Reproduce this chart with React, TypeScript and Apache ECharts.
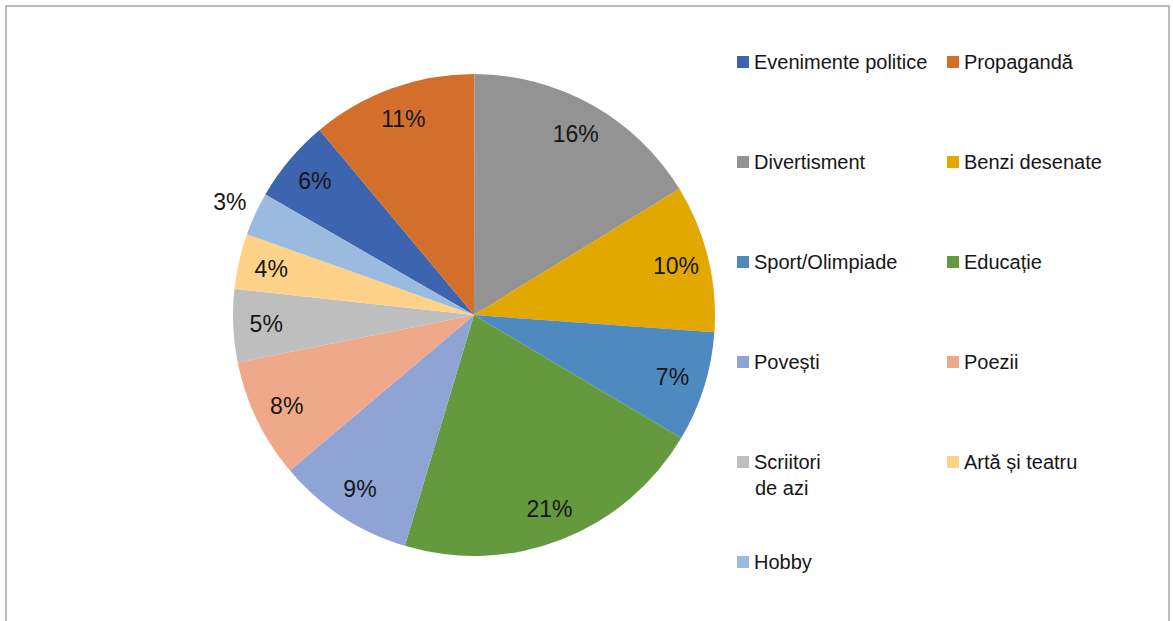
import React, { useEffect, useRef } from "react";
import * as echarts from "echarts";

const categories = [
  "Evenimente politice",
  "Propagandă",
  "Divertisment",
  "Benzi desenate",
  "Sport/Olimpiade",
  "Educație",
  "Povești",
  "Poezii",
  "Scriitori de azi",
  "Artă și teatru",
  "Hobby",
];
const shares = [5.6, 11.1, 16.2, 9.9, 7.4, 21.1, 9.2, 8.0, 4.9, 3.7, 2.9];

const colors = [
  "#3D64AE",
  "#D36F2B",
  "#939393",
  "#E3A800",
  "#4E89C0",
  "#64993E",
  "#8FA3D5",
  "#F0A88A",
  "#BEBEBE",
  "#FFD28A",
  "#9ABAE0",
];

const W = 1173;
const H = 621;
const CX = 474;
const CY = 315;
const R = 241;
const FIRST_SLICE_DEG = 300; // clockwise from 12 o'clock
const LABEL_R = 208;
const OUTSIDE_LABEL_R = 269;
const FONT = "'Liberation Sans', Arial, sans-serif";
const TEXT_COLOR = "#161616";

export default function App() {
  const ref = useRef<HTMLDivElement>(null);

  useEffect(() => {
    if (!ref.current) return;
    const chart = echarts.init(ref.current, undefined, { renderer: "svg" });
    const total = shares.reduce((a, b) => a + b, 0);

    const legends = categories.map((name, i) => {
      const row = Math.floor(i / 2);
      const col = i % 2;
      return {
        data: [name],
        left: col === 0 ? 737 : 947,
        top: 52 + row * 100,
        padding: 0,
        itemWidth: 12,
        itemHeight: 12,
        icon: "rect",
        selectedMode: false,
        formatter: (n: string) => (n === "Scriitori de azi" ? "Scriitori" : n),
        textStyle: {
          fontFamily: FONT,
          fontSize: 20,
          lineHeight: 20,
          color: TEXT_COLOR,
        },
      };
    });

    chart.setOption({
      animation: false,
      backgroundColor: "#ffffff",
      color: colors,
      legend: legends,
      graphic: [
        {
          type: "rect",
          silent: true,
          z: -10,
          shape: { x: 6, y: 6, width: 1163, height: 700 },
          style: { fill: "none", stroke: "#a6a6a6", lineWidth: 1.5 },
        },
        {
          type: "text",
          silent: true,
          x: 755,
          y: 488,
          style: {
            text: "de azi",
            fontFamily: FONT,
            fontSize: 20,
            fill: TEXT_COLOR,
            verticalAlign: "middle",
            align: "left",
          },
        },
      ],
      series: [
        {
          type: "pie",
          center: [CX, CY],
          radius: [0, R],
          startAngle: 90 - FIRST_SLICE_DEG + 360,
          clockwise: true,
          avoidLabelOverlap: false,
          itemStyle: { borderWidth: 0 },
          emphasis: { disabled: true },
          labelLine: { show: false },
          label: {
            show: true,
            position: "inside",
            fontFamily: FONT,
            fontSize: 23,
            color: TEXT_COLOR,
            formatter: (p: any) => Math.round(p.percent) + "%",
          },
          labelLayout: (p: any) => {
            const i = p.dataIndex;
            let before = 0;
            for (let j = 0; j < i; j++) before += shares[j];
            const midDeg = FIRST_SLICE_DEG + ((before + shares[i] / 2) / total) * 360;
            const a = (midDeg * Math.PI) / 180;
            const r = categories[i] === "Hobby" ? OUTSIDE_LABEL_R : LABEL_R;
            return {
              x: CX + r * Math.sin(a),
              y: CY - r * Math.cos(a),
              align: "center",
              verticalAlign: "middle",
            };
          },
          data: categories.map((name, i) => ({ name, value: shares[i] })),
        },
      ],
    });

    return () => chart.dispose();
  }, []);

  return (
    <div
      ref={ref}
      style={{ position: "fixed", left: 0, top: 0, width: W, height: H }}
    />
  );
}
